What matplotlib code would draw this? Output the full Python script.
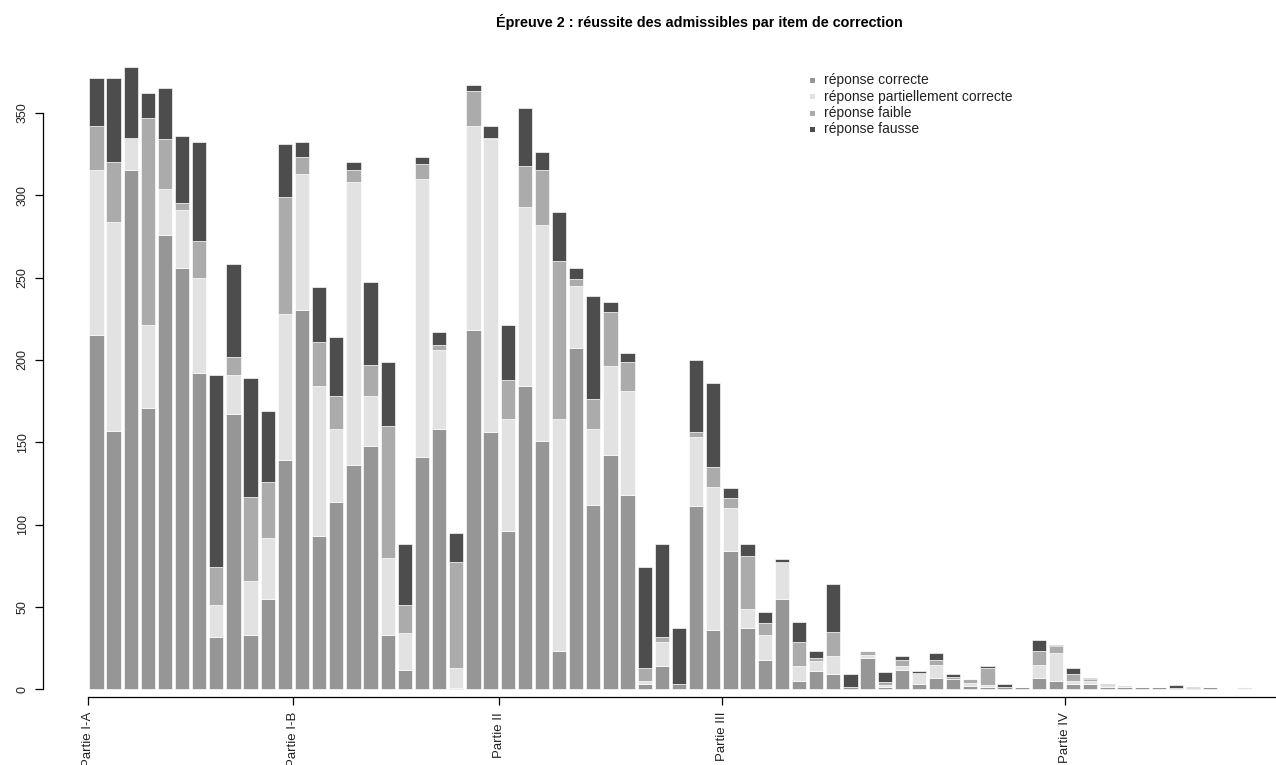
import matplotlib
matplotlib.use("Agg")
import matplotlib.pyplot as plt
import numpy as np
from matplotlib.patches import Rectangle

plt.rcParams['font.family'] = ['Liberation Sans', 'DejaVu Sans']

# values, one entry per correction item (68 items)
correcte = [215, 157, 315, 171, 276, 256, 192, 32, 167, 33, 55, 139,
            230, 93, 114, 136, 148, 33, 12, 141, 158, 1, 218, 156,
            96, 184, 151, 23, 207, 112, 142, 118, 3, 14, 3, 111, 36,
            84, 37, 18, 55, 5, 11, 9, 1.5, 19, 1.5, 12, 3, 7, 6, 2, 1.5, 1.5, 1.2, 7, 5,
            3, 3.5, 1.5, 1.2, 1.6, 1.6, 0.5, 1, 1.2, 0, 0]
partielle = [100, 127, 20, 50, 28, 35, 58, 19, 24, 33, 37, 89,
             83, 91, 44, 172, 30, 47, 22, 169, 48, 12, 124, 178,
             68, 109, 131, 141, 38, 46, 54, 63, 2, 15, 0, 42, 87,
             26, 12, 15, 22, 9, 6, 11, 0, 2, 1, 2, 7, 8, 0, 2, 1, 0, 0, 8, 17,
             2, 1.5, 1, 1.4, 0, 0, 0, 0, 0, 0, 1.2]
faible = [27, 36, 0, 126, 30, 4, 22, 23, 11, 51, 34, 71,
          10, 27, 20, 7, 19, 80, 17, 9, 3, 64, 21, 1,
          24, 25, 33, 96, 4, 18, 33, 18, 8, 3, 0, 3, 12,
          6, 32, 7, 0, 15, 2, 15, 0, 2, 2, 4, 0, 3, 1.5, 2, 10.5, 0, 0, 8, 4,
          4, 1, 0, 0, 0, 0, 0, 0, 0, 0, 0]
fausse = [29, 51, 43, 15, 31, 41, 60, 117, 56, 72, 43, 32,
          9, 33, 36, 5, 50, 39, 37, 4, 8, 18, 4, 7,
          33, 35, 11, 30, 7, 63, 6, 5, 61, 56, 34, 44, 51,
          6, 7, 7, 2, 12, 4, 29, 8, 0, 6, 2, 1, 4, 2, 0, 1, 1.5, 0, 7, 1,
          4, 1, 1, 0, 0, 0, 2.3, 0.6, 0, 0, 0]

parties = ['Partie I-A', 'Partie I-B', 'Partie II', 'Partie III', 'Partie IV']
premier_item = [1, 13, 25, 38, 58]

series = [correcte, partielle, faible, fausse]
noms = ['réponse correcte', 'réponse partiellement correcte',
        'réponse faible', 'réponse fausse']
couleurs = ['#969696', '#e2e2e2', '#ababab', '#4d4d4d']

W, H = 1276, 765
fig = plt.figure(figsize=(W / 100, H / 100), dpi=100)

# axes placed in pixels to mimic R's barplot layout
ax_left, ax_top, ax_bottom = 42.7, 40, 720
ax = fig.add_axes([ax_left / W, (H - ax_bottom) / H,
                   (W - ax_left) / W, (ax_bottom - ax_top) / H])
px_x = 14.28   # pixels per x unit
px_y = 1.647   # pixels per y unit
x0_px = 86.4
y0_px = 689.3
ax.set_xlim((ax_left - x0_px) / px_x, (W - x0_px) / px_x)
ax.set_ylim(-(ax_bottom - y0_px) / px_y, (y0_px - ax_top) / px_y)

n = len(correcte)
pos = 0.7 + 1.2 * np.arange(n)
bottom = np.zeros(n)
for vals, col in zip(series, couleurs):
    vals = np.array(vals, dtype=float)
    ax.bar(pos, vals, width=1, bottom=bottom, color=col,
           edgecolor='white', linewidth=0.45)
    bottom += vals

# axes styling
for s in ['top', 'right']:
    ax.spines[s].set_visible(False)
ax.spines['left'].set_bounds(0, 350)
ax.set_yticks(np.arange(0, 351, 50))
ax.tick_params(axis='y', length=6, width=0.9, pad=4, labelsize=9,
               labelcolor='#222222')
for lab in ax.get_yticklabels():
    lab.set_rotation(90)
    lab.set_verticalalignment('center')

ticks = [0.2 + (i - 1) * 1.2 - 0.1 for i in premier_item]
ax.spines['bottom'].set_position(('data', -(696.7 - y0_px) / px_y))
ax.spines['bottom'].set_bounds(ticks[0], ax.get_xlim()[1])
ax.set_xticks(ticks)
ax.set_xticklabels(parties, rotation=90, fontsize=9.5, color='#222222')
ax.tick_params(axis='x', length=6, width=0.9, pad=5)
for s in ['left', 'bottom']:
    ax.spines[s].set_linewidth(0.9)

fig.text(699 / W, 1 - 22 / H,
         'Épreuve 2 : réussite des admissibles par item de correction',
         ha='center', va='center', fontsize=10.4, fontweight='bold')

# legend drawn by hand, as in the R output
for k, (nom, col) in enumerate(zip(noms, couleurs)):
    yc = 80 + 16.5 * k
    fig.add_artist(Rectangle(((809.5) / W, 1 - (yc + 2.5) / H), 5 / W, 5 / H,
                             transform=fig.transFigure, color=col, lw=0))
    fig.text(823.5 / W, 1 - yc / H, nom, ha='left', va='center',
             fontsize=10, color='#222222')

fig.savefig('out.png', dpi=100)
